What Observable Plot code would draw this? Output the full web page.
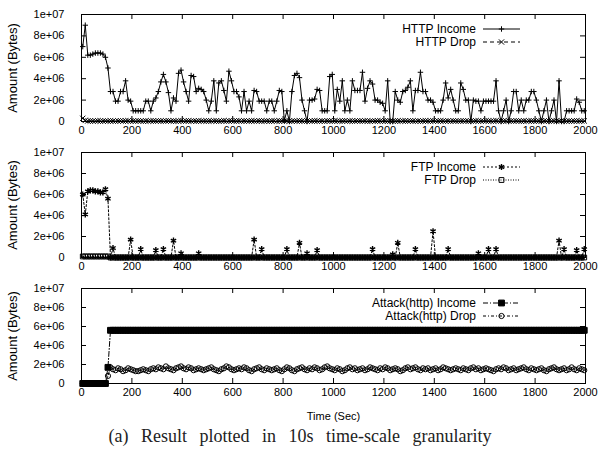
<!DOCTYPE html>
<html><head><meta charset="utf-8">
<script src="https://cdn.jsdelivr.net/npm/d3@7"></script>
<script src="https://cdn.jsdelivr.net/npm/@observablehq/plot@0.6"></script>
<style>
body{margin:0;background:#fff;}
#chart{position:relative;width:600px;height:460px;font-family:"Liberation Sans",Arial,sans-serif;}
#chart svg{display:block;}
#caption{position:absolute;left:0;width:600px;top:426px;text-align:center;font-family:"Liberation Serif","Times New Roman",serif;font-size:18px;line-height:20px;word-spacing:8px;color:#222;}
</style></head><body><div id="chart"><div id="panels"></div><div id="caption">(a) Result plotted in 10s time-scale granularity</div></div>
<script>
// sampling: one value every 10 s, first bin centred at 5 s
const t0 = 5, step = 10;
const xTicks = [0,200,400,600,800,1000,1200,1400,1600,1800,2000];
const yTicks = [0,2,4,6,8,10];               // units of 1e6 bytes
const yTickLabels = ["0","2e+06","4e+06","6e+06","8e+06","1e+07"];

// values in units of 1e6 bytes
const httpIncome = [
7.0,9.0,6.2,6.2,6.3,6.4,6.4,6.4,6.3,6.0,
5.0,2.8,2.8,1.9,1.9,2.8,2.8,3.8,2.0,1.9,
1.0,1.0,1.0,1.0,1.0,1.9,1.9,1.0,1.9,2.2,
2.8,3.7,4.4,3.7,2.7,1.0,2.2,1.9,4.5,4.8,
3.7,2.8,1.9,4.3,4.2,2.8,3.1,3.0,2.8,2.0,
1.0,1.9,3.8,1.0,3.6,3.8,2.9,1.9,4.7,3.8,
2.8,2.8,2.3,1.0,2.8,1.0,1.9,1.0,2.9,2.8,
1.9,1.9,1.9,1.0,1.9,1.9,1.0,1.9,2.9,2.8,
0.1,1.0,0.0,2.8,4.3,4.5,4.1,2.0,1.0,0.0,
2.0,2.0,2.1,3.0,2.9,1.0,1.0,1.0,4.2,4.4,
1.0,3.0,1.9,3.8,1.0,2.0,1.0,3.8,2.9,2.9,
2.9,4.6,1.9,3.1,3.8,3.5,2.0,2.0,1.8,1.7,
1.0,3.8,0.0,0.0,2.8,2.0,1.8,2.8,2.9,3.2,
3.8,1.0,2.9,2.9,4.6,2.8,2.8,2.0,2.0,1.8,
1.0,1.0,1.0,2.0,3.6,2.2,3.0,2.0,1.0,1.0,
3.6,3.0,2.0,2.0,0.0,2.0,1.9,1.9,1.0,1.9,
1.9,1.9,1.9,1.9,3.8,1.0,0.0,1.0,2.0,0.0,
1.0,2.8,2.8,1.0,2.0,1.0,2.0,2.0,2.8,2.8,
2.0,1.0,0.0,1.0,2.0,0.0,1.0,2.0,0.0,3.8,
0.0,0.0,1.0,1.0,1.0,1.0,2.1,1.8,1.0,1.0];
const httpDrop = [
0.3,0.1,0.05,0.05,0.04,0.05,0.06,0.05,0.04,0.05,
0.04,0.06,0.05,0.03,0.05,0.07,0.04,0.05,0.06,0.04,
0.05,0.04,0.06,0.05,0.03,0.05,0.04,0.06,0.05,0.04,
0.06,0.05,0.04,0.05,0.07,0.04,0.05,0.03,0.05,0.06,
0.04,0.05,0.06,0.04,0.05,0.03,0.06,0.05,0.04,0.05,
0.05,0.04,0.06,0.05,0.03,0.05,0.07,0.04,0.05,0.06,
0.04,0.05,0.06,0.04,0.05,0.05,0.04,0.06,0.05,0.04,
0.06,0.05,0.04,0.05,0.03,0.05,0.06,0.04,0.05,0.05,
0.04,0.06,0.05,0.03,0.05,0.04,0.06,0.05,0.04,0.05,
0.05,0.04,0.06,0.05,0.04,0.05,0.03,0.06,0.05,0.04,
0.06,0.05,0.04,0.05,0.07,0.04,0.05,0.05,0.04,0.06,
0.05,0.04,0.06,0.05,0.03,0.05,0.04,0.06,0.05,0.04,
0.04,0.05,0.06,0.04,0.05,0.05,0.04,0.06,0.05,0.04,
0.06,0.05,0.04,0.05,0.03,0.05,0.06,0.04,0.05,0.05,
0.05,0.04,0.06,0.05,0.04,0.05,0.03,0.06,0.05,0.04,
0.04,0.06,0.05,0.03,0.05,0.04,0.06,0.05,0.04,0.05,
0.06,0.05,0.04,0.05,0.07,0.04,0.05,0.05,0.04,0.06,
0.05,0.04,0.06,0.05,0.03,0.05,0.04,0.06,0.05,0.04,
0.04,0.05,0.06,0.04,0.05,0.05,0.04,0.06,0.05,0.04,
0.06,0.05,0.04,0.05,0.03,0.05,0.06,0.04,0.05,0.05];
const ftpIncome = [
6.0,4.1,6.3,6.4,6.4,6.3,6.3,6.2,6.2,6.5,
5.6,0,0.9,0,0,0,0,0,0,1.7,
0,0,0,0.8,0,0,0,0,0,0.7,
0,0,0.8,0,0,0,1.6,0,0,0.4,
0,0,0,0,0,0,0.4,0,0,0,
0,0,0,0,0,0,0,0,0,0,
0,0,0,0,0,0,0,0,1.7,0,
0,0.8,0,0,0,0,0,0,0,0,
0,0.8,0,0,0,0,1.4,0,0,0.4,
0,0,0,0.7,0,0,0,0,0,0,
0,0,0,0,0,0,0,0,0,0,
0,0,0,0,0,0.8,0,0,0,0,
0,0,0,0.3,0,1.4,0,0,0,0,
0,0,0.8,0,0,0,0,0,0,2.5,
0,0,0,0,0,0.8,0,0,0,0,
0,0,0,0,0,0,0,0.4,0,0,
0,0.8,0,0,0.8,0,0,0,0,0,
0,0,0,0,0,0,0,0,0,0,
0,0,0,0,0,0,0,0,0,1.6,
0,0.8,0,0,0,0,0.7,0,0,0.8];
const ftpDrop = [
0.1,0.1,0.1,0.1,0.1,0.1,0.1,0.1,0.1,0.1,
0.1,0,0,0,0,0,0,0,0,0,
0,0,0,0,0,0,0,0,0,0,
0,0,0,0,0,0,0,0,0,0,
0,0,0,0,0,0,0,0,0,0,
0,0,0,0,0,0,0,0,0,0,
0,0,0,0,0,0,0,0,0,0,
0,0,0,0,0,0,0,0,0,0,
0,0,0,0,0,0,0,0,0,0,
0,0,0,0,0,0,0,0,0,0,
0,0,0,0,0,0,0,0,0,0,
0,0,0,0,0,0,0,0,0,0,
0,0,0,0,0,0,0,0,0,0,
0,0,0,0,0,0,0,0,0,0,
0,0,0,0,0,0,0,0,0,0,
0,0,0,0,0,0,0,0,0,0,
0,0,0,0,0,0,0,0,0,0,
0,0,0,0,0,0,0,0,0,0,
0,0,0,0,0,0,0,0,0,0,
0,0,0,0,0,0,0,0,0,0];
const attackIncome = [
0,0,0,0,0,0,0,0,0,0,
1.7,5.6,5.6,5.6,5.6,5.6,5.6,5.6,5.6,5.6,
5.6,5.6,5.6,5.6,5.6,5.6,5.6,5.6,5.6,5.6,
5.6,5.6,5.6,5.6,5.6,5.6,5.6,5.6,5.6,5.6,
5.6,5.6,5.6,5.6,5.6,5.6,5.6,5.6,5.6,5.6,
5.6,5.6,5.6,5.6,5.6,5.6,5.6,5.6,5.6,5.6,
5.6,5.6,5.6,5.6,5.6,5.6,5.6,5.6,5.6,5.6,
5.6,5.6,5.6,5.6,5.6,5.6,5.6,5.6,5.6,5.6,
5.6,5.6,5.6,5.6,5.6,5.6,5.6,5.6,5.6,5.6,
5.6,5.6,5.6,5.6,5.6,5.6,5.6,5.6,5.6,5.6,
5.6,5.6,5.6,5.6,5.6,5.6,5.6,5.6,5.6,5.6,
5.6,5.6,5.6,5.6,5.6,5.6,5.6,5.6,5.6,5.6,
5.6,5.6,5.6,5.6,5.6,5.6,5.6,5.6,5.6,5.6,
5.6,5.6,5.6,5.6,5.6,5.6,5.6,5.6,5.6,5.6,
5.6,5.6,5.6,5.6,5.6,5.6,5.6,5.6,5.6,5.6,
5.6,5.6,5.6,5.6,5.6,5.6,5.6,5.6,5.6,5.6,
5.6,5.6,5.6,5.6,5.6,5.6,5.6,5.6,5.6,5.6,
5.6,5.6,5.6,5.6,5.6,5.6,5.6,5.6,5.6,5.6,
5.6,5.6,5.6,5.6,5.6,5.6,5.6,5.6,5.6,5.6,
5.6,5.6,5.6,5.6,5.6,5.6,5.6,5.6,5.6,5.6];
const attackDrop = [
0,0,0,0,0,0,0,0,0,0,
0.8,1.7,1.5,1.4,1.6,1.5,1.3,1.4,1.6,1.5,
1.4,1.3,1.3,1.4,1.5,1.4,1.3,1.5,1.6,1.5,
1.7,1.6,1.5,1.8,1.6,1.5,1.4,1.6,1.7,1.8,
1.6,1.5,1.7,1.6,1.4,1.5,1.6,1.5,1.4,1.5,
1.6,1.7,1.5,1.4,1.3,1.5,1.6,1.8,1.7,1.5,
1.4,1.5,1.6,1.5,1.7,1.6,1.4,1.3,1.5,1.6,
1.7,1.5,1.4,1.6,1.5,1.4,1.5,1.6,1.4,1.3,
1.5,1.7,1.6,1.4,1.3,1.5,1.6,1.7,1.5,1.4,
1.6,1.5,1.7,1.6,1.4,1.5,1.7,1.8,1.6,1.5,
1.4,1.6,1.5,1.3,1.4,1.6,1.7,1.5,1.6,1.4,
1.5,1.6,1.4,1.5,1.7,1.6,1.5,1.4,1.6,1.5,
1.7,1.6,1.4,1.5,1.6,1.5,1.3,1.4,1.6,1.7,
1.5,1.6,1.7,1.5,1.4,1.6,1.5,1.6,1.4,1.5,
1.6,1.4,1.5,1.7,1.6,1.5,1.4,1.5,1.6,1.5,
1.4,1.6,1.5,1.4,1.6,1.7,1.5,1.6,1.4,1.5,
1.6,1.5,1.4,1.3,1.5,1.6,1.5,1.7,1.6,1.4,
1.5,1.6,1.4,1.5,1.6,1.7,1.5,1.4,1.6,1.5,
1.4,1.5,1.6,1.4,1.3,1.5,1.6,1.7,1.5,1.4,
1.5,1.6,1.4,1.5,1.7,1.5,1.4,1.6,1.5,1.4];

const panelDefs = [
  {height:140, marginTop:14, marginBottom:19, legendY:29, series:[
    {label:"HTTP Income", values:httpIncome, symbol:"plus", r:1.9, sw:1, fill:"none", dash:null},
    {label:"HTTP Drop", values:httpDrop, symbol:"times", r:2.5, sw:1, fill:"none", dash:"4,3"}]},
  {height:136, marginTop:12, marginBottom:19, legendY:27, series:[
    {label:"FTP Income", values:ftpIncome, symbol:"asterisk", r:2.9, sw:1.4, fill:"none", dash:"2,2"},
    {label:"FTP Drop", values:ftpDrop, symbol:"square", r:2.7, sw:1, fill:"none", dash:"1,1.5"}]},
  {height:148, marginTop:12, marginBottom:41, legendY:27, xLabel:"Time (Sec)", series:[
    {label:"Attack(http) Income", values:attackIncome, symbol:"square", r:3.3, sw:1, fill:"black", dash:"5,2,1,2"},
    {label:"Attack(http) Drop", values:attackDrop, symbol:"circle", r:2.6, sw:1, fill:"none", dash:"3,2,1,2"}]}
];

const symMap = {plus:d3.symbolPlus, times:d3.symbolTimes, asterisk:d3.symbolAsterisk, square:d3.symbolSquare, circle:d3.symbolCircle};
const W = 600, mL = 81, mR = 15;
const FONT = "Liberation Sans, Arial, sans-serif";
const rowsOf = vals => vals.map((v, i) => ({t: t0 + i * step, v}));

for (const p of panelDefs) {
  const areaW = W - mL - mR, areaH = p.height - p.marginTop - p.marginBottom;
  const marks = [];
  for (const s of p.series) {
    const data = rowsOf(s.values);
    marks.push(Plot.line(data, {x:"t", y:"v", stroke:"black", strokeWidth:1, strokeDasharray:s.dash}));
    marks.push(Plot.dot(data, {x:"t", y:"v", symbol:s.symbol, r:s.r, stroke:"black", fill:s.fill, strokeWidth:s.sw}));
  }
  marks.push(
    Plot.tickX(xTicks, {x:d=>d, insetTop:areaH-5, stroke:"black"}),
    Plot.tickX(xTicks, {x:d=>d, insetBottom:areaH-5, stroke:"black"}),
    Plot.tickY(yTicks, {y:d=>d, insetRight:areaW-5, stroke:"black"}),
    Plot.tickY(yTicks, {y:d=>d, insetLeft:areaW-5, stroke:"black"}),
    Plot.axisX(xTicks, {tickSize:0, tickPadding:5, tickFormat:d=>String(d), label:p.xLabel ?? null, labelAnchor:"center", labelArrow:"none", labelOffset:36}),
    Plot.axisY(yTicks, {tickSize:0, tickPadding:17, tickFormat:d=>yTickLabels[yTicks.indexOf(d)], label:null}),
    Plot.text(["Amount (Bytes)"], {text:d=>d, frameAnchor:"left", textAnchor:"middle", lineAnchor:"middle", rotate:-90, dx:-69, fontSize:13, fill:"black"}),
    Plot.frame({stroke:"black"})
  );
  const svg = Plot.plot({
    width:W, height:p.height, marginLeft:mL, marginRight:mR, marginTop:p.marginTop, marginBottom:p.marginBottom,
    x:{domain:[0,2000]}, y:{domain:[0,10]},
    style:{fontFamily:FONT, fontSize:"11px", background:"white", color:"black", overflow:"visible"},
    marks
  });
  // legend (gnuplot style, top right inside the frame)
  const g = d3.select(svg).append("g").attr("font-family",FONT).attr("font-size",12);
  p.series.forEach((s, k) => {
    const y = p.legendY + k * 13;
    g.append("text").attr("x",476).attr("y",y).attr("dy","0.35em").attr("text-anchor","end").attr("fill","black").text(s.label);
    g.append("line").attr("x1",483).attr("x2",520).attr("y1",y).attr("y2",y).attr("stroke","black").attr("stroke-dasharray",s.dash);
    g.append("path").attr("transform",`translate(501.5,${y})`).attr("d", d3.symbol(symMap[s.symbol], s.r*s.r*Math.PI)()).attr("fill",s.fill).attr("stroke","black").attr("stroke-width",s.sw);
  });
  document.getElementById("panels").appendChild(svg);
}
</script></body></html>
